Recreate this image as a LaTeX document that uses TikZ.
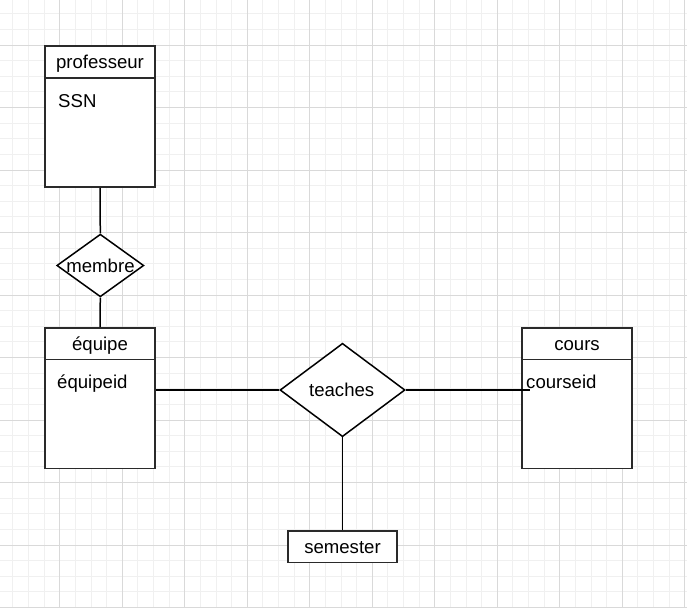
\documentclass[tikz,border=0pt]{standalone}
\usepackage{fontspec}
\setmainfont{Liberation Sans}
\usetikzlibrary{shapes.geometric}
\definecolor{gminor}{HTML}{F0F0F0}
\definecolor{gmajor}{HTML}{D9D9D9}
\definecolor{boxline}{HTML}{2A2A2A}
\tikzset{
  entity/.style={draw=boxline, line width=1.6pt, fill=white, inner sep=0pt},
  rel/.style={draw=black, line width=1.5pt, fill=white, diamond, inner sep=0pt},
  conn/.style={draw=black, line width=1.5pt},
  sep/.style={draw=boxline, line width=1.5pt},
  lbl/.style={inner sep=0pt, font=\fontsize{18.6}{22}\selectfont, text=black},
}
\begin{document}
\begin{tikzpicture}[x=1pt,y=-1pt]
\useasboundingbox (0,0) rectangle (687,608);
\fill[white] (0,0) rectangle (687,608);
% grid
\foreach \i in {0,...,44} {
  \draw[gminor, line width=1pt] ({-2.7+15.625*\i},0) -- ({-2.7+15.625*\i},608);
}
\foreach \j in {0,...,39} {
  \draw[gminor, line width=1pt] (0,{-1.8+15.625*\j}) -- (687,{-1.8+15.625*\j});
}
\foreach \i in {0,...,11} {
  \draw[gmajor, line width=1pt] ({-2.7+62.5*\i},0) -- ({-2.7+62.5*\i},608);
}
\foreach \j in {0,...,9} {
  \draw[gmajor, line width=1pt] (0,{45+62.5*\j}) -- (687,{45+62.5*\j});
}

% entities
\node[entity, minimum width=110pt, minimum height=141pt] (prof) at (100,116.5) {};
\node[entity, minimum width=110pt, minimum height=140.5pt] (equipe) at (100,398.2) {};
\node[entity, minimum width=110pt, minimum height=140.5pt] (cours) at (577,398.2) {};
\node[entity, minimum width=109pt, minimum height=31.5pt] (semester) at (342.5,546.7) {};

% header separators
\coordinate (profH) at (45,78);
\coordinate (equipeH) at (45,359.5);
\coordinate (coursH) at (522,359.5);
\draw[sep] (profH) -- (profH -| prof.east);
\draw[sep] (equipeH) -- (equipeH -| equipe.east);
\draw[sep] (coursH) -- (coursH -| cours.east);

% relationships
\node[rel, minimum width=87pt, minimum height=62.7pt] (membre) at (100.3,265.5) {};
\node[rel, minimum width=125pt, minimum height=93.4pt] (teaches) at (342.5,390) {};

% connectors
\coordinate (cend) at (530,390);
\draw[conn] (prof.south) -- (membre.north);
\draw[conn] (membre.south) -- (equipe.north);
\draw[conn] (teaches.west) -- (teaches.west -| equipe.east);
\draw[conn] (teaches.east) -- (cend);
\draw[conn] (teaches.south) -- (semester.north);

% texts
\node[lbl, anchor=base] (tprof) at (100,68.5) {professeur};
\node[lbl, anchor=base west] (tssn) at (58,107.5) {SSN};
\node[lbl, anchor=base] (tmembre) at (100.5,272) {membre};
\node[lbl, anchor=base] (tequipe) at (100,350) {équipe};
\node[lbl, anchor=base west] (tequipeid) at (57,388.3) {équipeid};
\node[lbl, anchor=base] (tteaches) at (341.7,396.7) {teaches};
\node[lbl, anchor=base] (tcours) at (577,350) {cours};
\node[lbl, anchor=base west] (tcourseid) at (526,388.3) {courseid};
\node[lbl, anchor=base] (tsemester) at (342.5,553) {semester};
\end{tikzpicture}
\end{document}
